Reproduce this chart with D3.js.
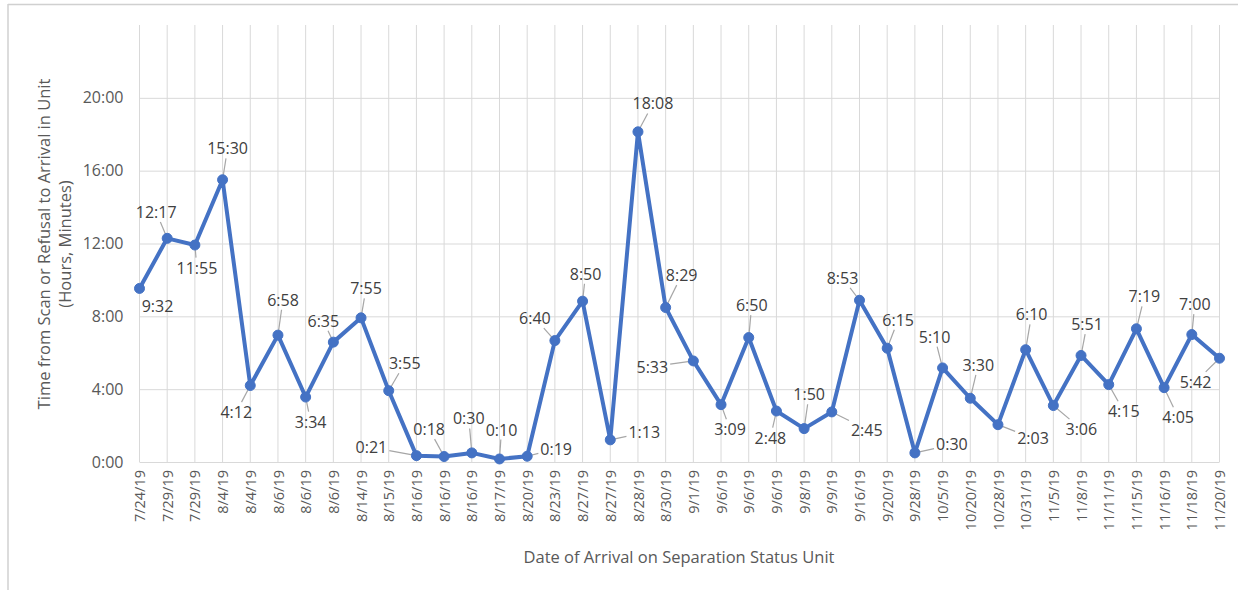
<!DOCTYPE html>
<html>
<head>
<meta charset="utf-8">
<script src="https://cdn.jsdelivr.net/npm/d3@7"></script>
<style>
	body { margin: 0; background: #fff; }
	svg text { font-family: "Open Sans", sans-serif; }
	.grid line { stroke: #d9d9d9; stroke-width: 1; }
	.grid path { display: none; }
</style>
</head>
<body>
<svg id="vis" width="1238" height="590"></svg>
<script>
// Arrival dates (x categories, some repeat) and elapsed time in h:mm
const dates = [
	"7/24/19", "7/29/19", "7/29/19", "8/4/19", "8/4/19", "8/6/19", "8/6/19", "8/6/19",
	"8/14/19", "8/15/19", "8/16/19", "8/16/19", "8/16/19", "8/17/19", "8/20/19", "8/23/19",
	"8/27/19", "8/27/19", "8/28/19", "8/30/19", "9/1/19", "9/6/19", "9/6/19", "9/6/19",
	"9/8/19", "9/9/19", "9/16/19", "9/20/19", "9/28/19", "10/5/19", "10/20/19", "10/28/19",
	"10/31/19", "11/5/19", "11/8/19", "11/11/19", "11/15/19", "11/16/19", "11/18/19", "11/20/19"
];

const times = [
	"9:32", "12:17", "11:55", "15:30", "4:12", "6:58", "3:34", "6:35",
	"7:55", "3:55", "0:21", "0:18", "0:30", "0:10", "0:19", "6:40",
	"8:50", "1:13", "18:08", "8:29", "5:33", "3:09", "6:50", "2:48",
	"1:50", "2:45", "8:53", "6:15", "0:30", "5:10", "3:30", "2:03",
	"6:10", "3:06", "5:51", "4:15", "7:19", "4:05", "7:00", "5:42"
];

const yTicks = [0, 4, 8, 12, 16, 20];

// where each data label sits relative to its point (dx, dy)
const labelOffsets = [
	[18, 18], [-11, -26], [2, 23], [5, -31], [-14, 27], [5, -35], [5, 25], [-10, -21],
	[5, -29], [16, -27], [-45, -8], [-15, -27], [-3, -34], [2, -29], [29, -7], [-20, -22],
	[3, -27], [34, -7], [15, -28], [16, -32], [-41, 6], [9, 25], [3, -32], [-6, 27],
	[5, -34], [35, 18], [-17, -22], [11, -28], [37, -8], [-8, -31], [8, -33], [35, 14],
	[6, -35], [28, 24], [6, -31], [15, 27], [8, -32], [14, 30], [3, -30], [-24, 24]
];

const toHours = s => { const p = s.split(":"); return +p[0] + (+p[1]) / 60; };

const data = times.map((t, i) => ({ i: i, date: dates[i], label: t, v: toHours(t) }));

const svg = d3.select("svg#vis");

// frame of the original screenshot
svg.append("line").attr("x1", 8).attr("x2", 1238).attr("y1", 4.5).attr("y2", 4.5)
	.attr("stroke", "#d0d0d0").attr("stroke-width", 1.5);
svg.append("line").attr("x1", 8).attr("x2", 8).attr("y1", 4).attr("y2", 590)
	.attr("stroke", "#d0d0d0").attr("stroke-width", 1.5);

const x = d3.scalePoint()
	.domain(d3.range(dates.length))
	.range([139.5, 1219.5]);

const y = d3.scaleLinear()
	.domain([0, 24])
	.range([462, 25]);

// vertical gridlines
svg.append("g").attr("class", "grid")
	.selectAll("line")
	.data(x.domain())
	.join("line")
	.attr("x1", d => x(d)).attr("x2", d => x(d))
	.attr("y1", y(24)).attr("y2", y(0));

// horizontal gridlines + y labels
const yAxis = svg.append("g")
	.attr("class", "grid")
	.attr("transform", translate(139.5, 0))
	.call(d3.axisLeft(y).tickValues(yTicks).tickSize(-1080).tickPadding(16)
		.tickFormat(d => d + ":00"));

yAxis.selectAll("text")
	.attr("fill", "#595959")
	.style("font-size", "16px");

// x labels (rotated)
const xAxis = svg.append("g")
	.attr("transform", translate(0, 462))
	.call(d3.axisBottom(x).tickSize(0).tickFormat(i => dates[i]));

xAxis.select("path").remove();
xAxis.selectAll("text")
	.attr("fill", "#595959")
	.style("font-size", "14.5px")
	.attr("text-anchor", "end")
	.attr("transform", "rotate(-90)")
	.attr("x", -8)
	.attr("y", 0)
	.attr("dy", "0.35em");

// axis titles
svg.append("text")
	.attr("x", 679).attr("y", 563)
	.attr("text-anchor", "middle")
	.attr("fill", "#595959")
	.style("font-size", "16.5px")
	.text("Date of Arrival on Separation Status Unit");

const yTitle = svg.append("text")
	.attr("transform", translate(50, 244) + " rotate(-90)")
	.attr("text-anchor", "middle")
	.attr("fill", "#595959")
	.style("font-size", "16.5px");
yTitle.append("tspan").attr("x", 0).attr("y", 0).text("Time from Scan or Refusal to Arrival in Unit");
yTitle.append("tspan").attr("x", 0).attr("y", 21).text("(Hours, Minutes)");

// the series
const line = d3.line()
	.x(d => x(d.i))
	.y(d => y(d.v));

svg.append("path")
	.datum(data)
	.attr("fill", "none")
	.attr("stroke", "#4472c4")
	.attr("stroke-width", 4)
	.attr("stroke-linejoin", "round")
	.attr("d", line);

// data labels
const labels = svg.append("g").selectAll("g.lbl")
	.data(data)
	.join("g")
	.attr("class", "lbl");

labels.append("text")
	.attr("x", d => x(d.i) + labelOffsets[d.i][0])
	.attr("y", d => y(d.v) + labelOffsets[d.i][1])
	.attr("text-anchor", "middle")
	.attr("dy", "0.35em")
	.attr("fill", "#404040")
	.style("font-size", "16px")
	.text(d => d.label);

// leader lines from label box to point
labels.each(function(d) {
	const g = d3.select(this);
	const box = g.select("text").node().getBBox();
	const px = x(d.i), py = y(d.v);
	const cx = box.x + box.width / 2, cy = box.y + box.height / 2;
	const hw = box.width / 2 + 2, hh = box.height / 2 - 1;
	const dx = px - cx, dy = py - cy;
	// clip the segment to the label box
	const t = Math.min(Math.abs(dx) > 0 ? hw / Math.abs(dx) : Infinity,
		Math.abs(dy) > 0 ? hh / Math.abs(dy) : Infinity);
	if (t >= 1 || d.i === 0) return;
	const sx = cx + dx * t, sy = cy + dy * t;
	if (Math.hypot(px - sx, py - sy) < 8) return;
	g.insert("line", "text")
		.attr("x1", sx).attr("y1", sy)
		.attr("x2", px).attr("y2", py)
		.attr("stroke", "#a6a6a6")
		.attr("stroke-width", 1.2);
});

// markers
svg.append("g").selectAll("circle")
	.data(data)
	.join("circle")
	.attr("cx", d => x(d.i))
	.attr("cy", d => y(d.v))
	.attr("r", 5)
	.attr("fill", "#4472c4")
	.attr("stroke", "#4472c4")
	.attr("stroke-width", 1);

function translate(x, y) {
	return "translate(" + x + "," + y + ")";
}
</script>
</body>
</html>
